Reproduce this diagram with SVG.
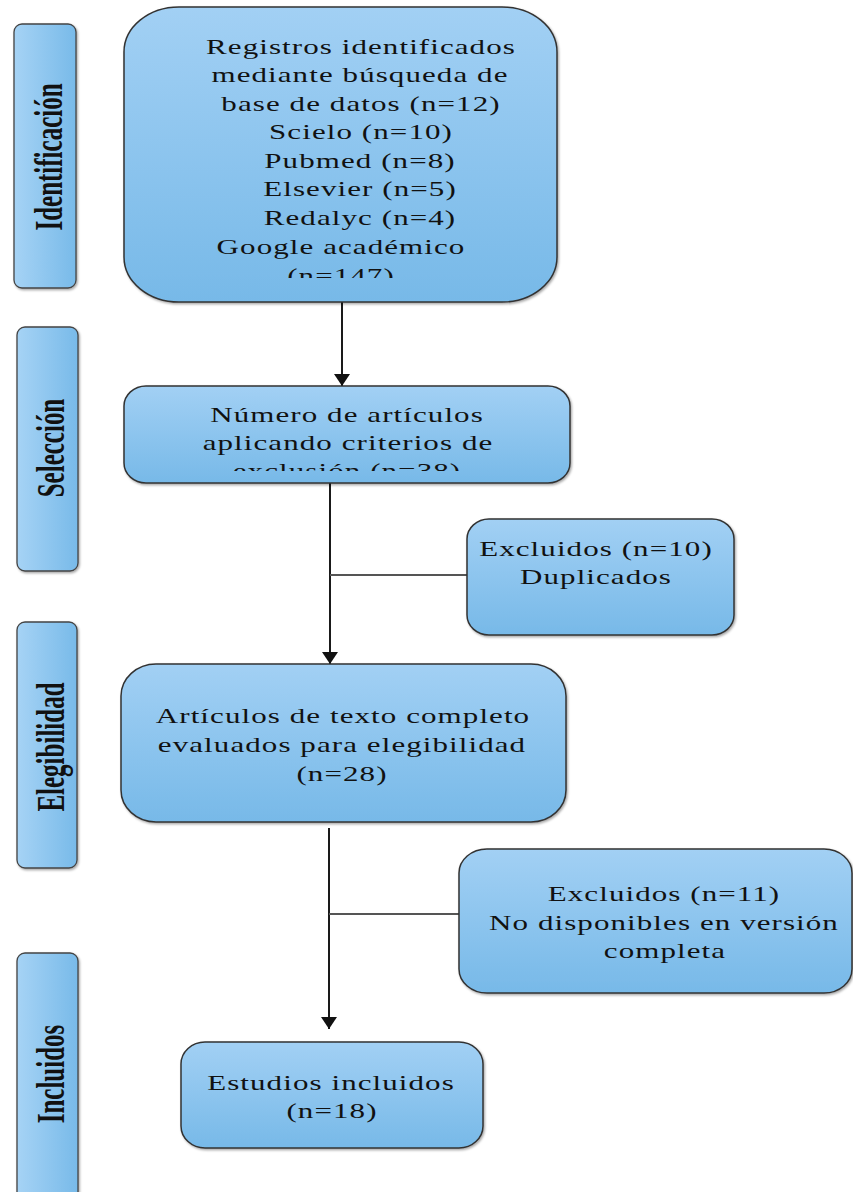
<svg xmlns="http://www.w3.org/2000/svg" width="853" height="1192" viewBox="0 0 853 1192">
<defs>
<linearGradient id="gv" x1="0" y1="0" x2="0" y2="1">
<stop offset="0" stop-color="#a2d0f4"/>
<stop offset="1" stop-color="#77b9e8"/>
</linearGradient>
<linearGradient id="gh" x1="0" y1="0" x2="1" y2="0">
<stop offset="0" stop-color="#a6d3f5"/>
<stop offset="1" stop-color="#78bae9"/>
</linearGradient>
<filter id="sh" x="-10%" y="-10%" width="120%" height="120%">
<feDropShadow dx="1.2" dy="1.5" stdDeviation="1" flood-color="#000" flood-opacity="0.35"/>
</filter>
<marker id="ah" viewBox="0 -8 12 16" refX="12" refY="0" markerWidth="12" markerHeight="16" markerUnits="userSpaceOnUse" orient="auto">
<path d="M0,-8 L12,0 L0,8 Z" fill="#111"/>
</marker>
<clipPath id="c1"><rect x="124" y="7" width="433" height="271"/></clipPath>
<clipPath id="c2"><rect x="124" y="386" width="446" height="85"/></clipPath>
</defs>
<style>
.box{fill:url(#gv);stroke:#333;stroke-width:1.5;filter:url(#sh)}
.bar{fill:url(#gh);stroke:#444;stroke-width:1.3;filter:url(#sh)}
.t{font-family:"Liberation Serif","Times New Roman",serif;font-size:20px;fill:#111;text-anchor:middle;letter-spacing:0.7px}
.lbl{font-family:"Liberation Serif","Times New Roman",serif;font-size:25px;font-weight:bold;fill:#111;text-anchor:middle}
.ln{stroke:#1a1a1a;stroke-width:2;fill:none}
.br{stroke:#555;stroke-width:2;fill:none}
</style>
<rect width="853" height="1192" fill="#fff"/>

<g id="phase-identificacion">
<rect class="bar" x="14" y="24" width="62" height="264" rx="8" ry="8"/>
<text class="lbl" transform="translate(62,157) scale(1.6,1) rotate(-90)" x="0" y="0">Identificación</text>
</g>
<g id="phase-seleccion">
<rect class="bar" x="17" y="327" width="61" height="244" rx="8" ry="8"/>
<text class="lbl" transform="translate(64,448) scale(1.6,1) rotate(-90)" x="0" y="0">Selección</text>
</g>
<g id="phase-elegibilidad">
<rect class="bar" x="17" y="622" width="60" height="246" rx="8" ry="8"/>
<text class="lbl" transform="translate(64,747) scale(1.6,1) rotate(-90)" x="0" y="0">Elegibilidad</text>
</g>
<g id="phase-incluidos">
<rect class="bar" x="17" y="953" width="61" height="250" rx="8" ry="8"/>
<text class="lbl" transform="translate(64,1074) scale(1.6,1) rotate(-90)" x="0" y="0">Incluidos</text>
</g>

<g id="connectors">
<line class="ln" x1="342" y1="302" x2="342" y2="386" marker-end="url(#ah)"/>
<line class="ln" x1="330" y1="483" x2="330" y2="664" marker-end="url(#ah)"/>
<line class="br" x1="330" y1="575" x2="467" y2="575"/>
<line class="ln" x1="329" y1="828" x2="329" y2="1029" marker-end="url(#ah)"/>
<line class="br" x1="329" y1="914" x2="459" y2="914"/>
</g>

<g id="registros">
<rect class="box" x="124" y="7" width="433" height="295" rx="55" ry="45"/>
<g clip-path="url(#c1)">
<text class="t" transform="translate(361,0) scale(1.55,1)" x="0" y="54">Registros identificados</text>
<text class="t" transform="translate(360,0) scale(1.55,1)" x="0" y="82.5">mediante búsqueda de</text>
<text class="t" transform="translate(361,0) scale(1.55,1)" x="0" y="111">base de datos (n=12)</text>
<text class="t" transform="translate(361,0) scale(1.55,1)" x="0" y="139.5">Scielo (n=10)</text>
<text class="t" transform="translate(360,0) scale(1.55,1)" x="0" y="168">Pubmed (n=8)</text>
<text class="t" transform="translate(360,0) scale(1.55,1)" x="0" y="196.5">Elsevier (n=5)</text>
<text class="t" transform="translate(360,0) scale(1.55,1)" x="0" y="225">Redalyc (n=4)</text>
<text class="t" transform="translate(341,0) scale(1.55,1)" x="0" y="254">Google académico</text>
<text class="t" transform="translate(341,0) scale(1.55,1)" x="0" y="283">(n=147)</text>
</g>
</g>

<g id="seleccion">
<rect class="box" x="124" y="386" width="446" height="97" rx="22" ry="20"/>
<g clip-path="url(#c2)">
<text class="t" transform="translate(347,0) scale(1.55,1)" x="0" y="422">Número de artículos</text>
<text class="t" transform="translate(348,0) scale(1.55,1)" x="0" y="450">aplicando criterios de</text>
<text class="t" transform="translate(347,0) scale(1.55,1)" x="0" y="478">exclusión (n=38)</text>
</g>
</g>

<g id="excluidos-1">
<rect class="box" x="467" y="519" width="267" height="116" rx="22" ry="20"/>
<text class="t" transform="translate(596,0) scale(1.55,1)" x="0" y="556">Excluidos (n=10)</text>
<text class="t" transform="translate(596,0) scale(1.55,1)" x="0" y="584">Duplicados</text>
</g>

<g id="elegibilidad">
<rect class="box" x="121" y="664" width="445" height="158" rx="35" ry="32"/>
<text class="t" transform="translate(343,0) scale(1.55,1)" x="0" y="723">Artículos de texto completo</text>
<text class="t" transform="translate(342,0) scale(1.55,1)" x="0" y="752">evaluados para elegibilidad</text>
<text class="t" transform="translate(342,0) scale(1.55,1)" x="0" y="781">(n=28)</text>
</g>

<g id="excluidos-2">
<rect class="box" x="459" y="849" width="393" height="144" rx="28" ry="24"/>
<text class="t" transform="translate(664,0) scale(1.55,1)" x="0" y="901">Excluidos (n=11)</text>
<text class="t" transform="translate(664,0) scale(1.55,1)" x="0" y="930">No disponibles en versión</text>
<text class="t" transform="translate(665,0) scale(1.55,1)" x="0" y="958">completa</text>
</g>

<g id="incluidos">
<rect class="box" x="181" y="1042" width="302" height="106" rx="24" ry="22"/>
<text class="t" transform="translate(331,0) scale(1.55,1)" x="0" y="1090">Estudios incluidos</text>
<text class="t" transform="translate(332,0) scale(1.55,1)" x="0" y="1118">(n=18)</text>
</g>
</svg>
